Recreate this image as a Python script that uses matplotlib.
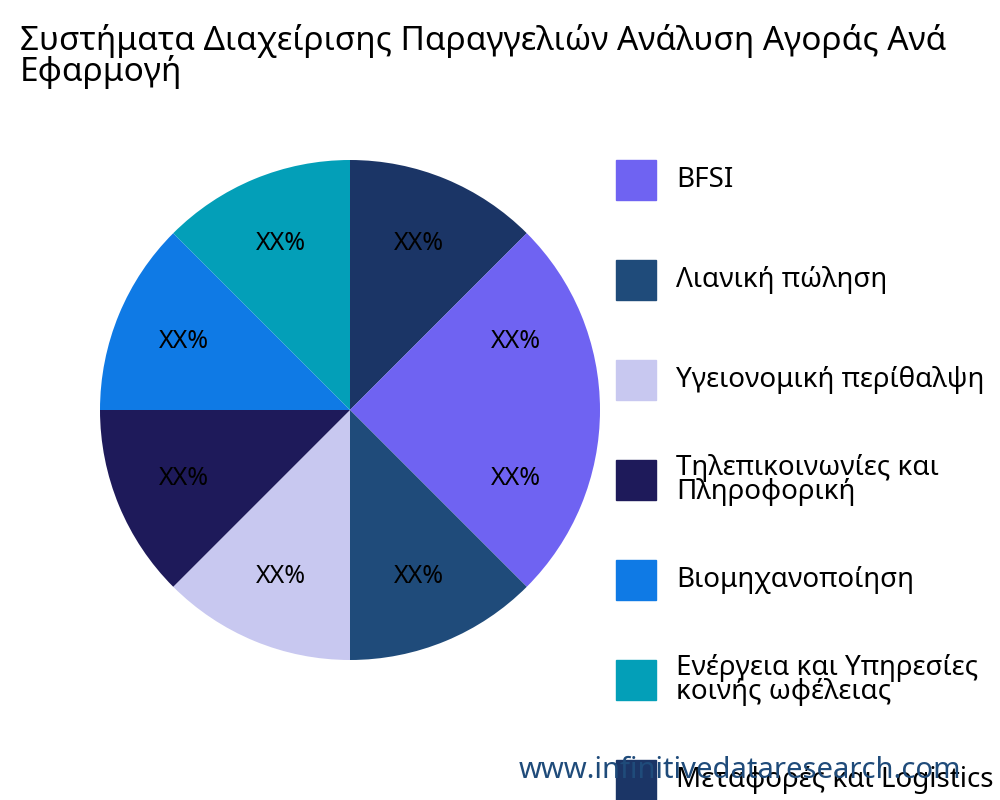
import matplotlib
matplotlib.use("Agg")
import matplotlib.pyplot as plt
from matplotlib.patches import Rectangle

title = "Συστήματα Διαχείρισης Παραγγελιών Ανάλυση Αγοράς Ανά\nΕφαρμογή"
categories = ["BFSI", "Λιανική πώληση", "Υγειονομική περίθαλψη",
              "Τηλεπικοινωνίες και\nΠληροφορική", "Βιομηχανοποίηση",
              "Ενέργεια και Υπηρεσίες\nκοινής ωφέλειας", "Μεταφορές και Logistics",
              "Άλλες"]
shares = [12.5, 12.5, 12.5, 12.5, 12.5, 12.5, 12.5, 12.5]
colors = ["#6f63f2", "#1f4b7a", "#c8c8f0", "#1e1a5a", "#0f7ae5",
          "#039fb8", "#1b3566", "#6f63f2"]

plt.rcParams["font.family"] = ["Noto Sans", "DejaVu Sans"]
fig = plt.figure(figsize=(10, 8), dpi=100)
fig.text(0.02, 0.97, title, fontsize=24, va="top", ha="left", linespacing=0.9)

ax = fig.add_axes([0.1, 0.175, 0.5, 0.625])
ax.pie(shares, colors=colors, startangle=0, counterclock=False,
       autopct=lambda p: "XX%", pctdistance=0.72,
       textprops={"fontsize": 18, "color": "black"})
ax.set_xlim(-1, 1)
ax.set_ylim(-1, 1)
ax.set_aspect("equal")

for i, (cat, col) in enumerate(zip(categories[:7], colors[:7])):
    y = 1 - (180 + 100 * i) / 800
    fig.patches.append(Rectangle((0.616, y - 0.025), 0.04, 0.05, color=col,
                                 transform=fig.transFigure))
    fig.text(0.676, y, cat, fontsize=20, va="center", ha="left",
             linespacing=0.85)

fig.text(0.74, 0.037, "www.infinitivedataresearch.com", fontsize=21,
         color="#1f4b7a", ha="center", va="center")
fig.savefig("out.png", dpi=100)
